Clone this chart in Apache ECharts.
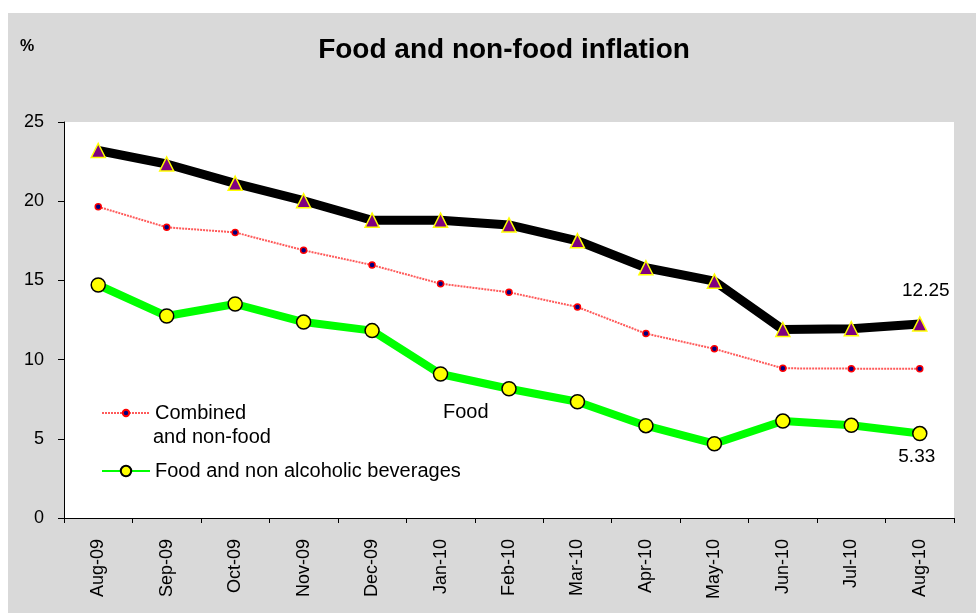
<!DOCTYPE html>
<html>
<head>
<meta charset="utf-8">
<script src="https://cdn.jsdelivr.net/npm/echarts@6/dist/echarts.min.js"></script>
<style>
    html, body { margin: 0; padding: 0; background: #fff; }
    #chart { position: absolute; left: 8px; top: 13px; width: 968px; height: 600px; }
</style>
</head>
<body>
<div id="chart"></div>
<script>
// 月份
var months = ['Aug-09', 'Sep-09', 'Oct-09', 'Nov-09', 'Dec-09', 'Jan-10', 'Feb-10',
    'Mar-10', 'Apr-10', 'May-10', 'Jun-10', 'Jul-10', 'Aug-10'];
// 黑线 (Food)
var foodValues = [23.2, 22.35, 21.13, 20.03, 18.8, 18.8, 18.5, 17.5, 15.8, 14.95, 11.9, 11.95, 12.25];
// 红色虚线 (Combined and non-food)
var combinedValues = [19.65, 18.35, 18.03, 16.9, 15.97, 14.79, 14.25, 13.32, 11.64, 10.68, 9.45, 9.43, 9.43];
// 绿线 (Food and non alcoholic beverages)
var beverageValues = [14.71, 12.75, 13.51, 12.37, 11.83, 9.09, 8.16, 7.34, 5.83, 4.69, 6.12, 5.85, 5.33];
var yTicks = [0, 5, 10, 15, 20, 25];

var font = 'Liberation Sans, Arial, sans-serif';

var chart = echarts.init(document.getElementById('chart'));

// 只给最后一个点加标签
function lastLabel(values, pos, distance, dx) {
    return values.map(function (v, i) {
        if (i === values.length - 1) {
            return {
                value: v,
                label: {
                    show: true,
                    position: pos,
                    distance: distance,
                    offset: [dx, 0],
                    color: '#000',
                    fontSize: 19,
                    fontFamily: font
                }
            };
        }
        return v;
    });
}

var option = {
    backgroundColor: '#d9d9d9',
    animation: false,
    title: {
        text: 'Food and non-food inflation',
        left: 491,
        top: 18,
        textAlign: 'center',
        textStyle: {
            fontFamily: font,
            fontSize: 28,
            fontWeight: 'bold',
            color: '#000'
        }
    },
    graphic: [
        {
            type: 'text',
            left: 12,
            top: 26,
            style: { text: '%', font: 'bold 16px ' + font, fill: '#000' }
        },
        {
            type: 'text',
            left: 435,
            top: 389,
            z: 10,
            style: { text: 'Food', font: '20px ' + font, fill: '#000' }
        },
        {
            type: 'text',
            left: 145,
            top: 414,
            z: 10,
            style: { text: 'and non-food', font: '20px ' + font, fill: '#000' }
        }
    ],
    legend: [
        {
            data: ['Combined and non-food'],
            formatter: function () { return 'Combined'; },
            left: 88,
            top: 385,
            itemWidth: 48,
            itemHeight: 8,
            textStyle: { fontFamily: font, fontSize: 20, color: '#000' }
        },
        {
            data: ['Food and non alcoholic beverages'],
            left: 88,
            top: 443,
            itemWidth: 48,
            itemHeight: 13,
            textStyle: { fontFamily: font, fontSize: 20, color: '#000' }
        }
    ],
    grid: {
        left: 56,
        right: 22,
        top: 109,
        bottom: 95,
        show: true,
        backgroundColor: '#fff',
        borderWidth: 0
    },
    xAxis: {
        type: 'category',
        data: months,
        boundaryGap: true,
        axisLine: { lineStyle: { color: '#000', width: 1 } },
        axisTick: { show: true, length: 5, alignWithLabel: false, lineStyle: { color: '#000' } },
        axisLabel: {
            rotate: 90,
            interval: 0,
            margin: 21,
            color: '#000',
            fontFamily: font,
            fontSize: 18
        },
        splitLine: { show: false }
    },
    yAxis: {
        type: 'value',
        min: yTicks[0],
        max: yTicks[yTicks.length - 1],
        interval: 5,
        axisLine: { show: true, lineStyle: { color: '#000', width: 1 } },
        axisTick: { show: true, length: 6, lineStyle: { color: '#000' } },
        axisLabel: {
            color: '#000',
            fontFamily: font,
            fontSize: 18,
            margin: 20
        },
        splitLine: { show: false }
    },
    series: [
        {
            name: 'Food',
            type: 'line',
            data: lastLabel(foodValues, 'top', 16, 6),
            symbol: 'triangle',
            symbolSize: 14,
            z: 3,
            lineStyle: { color: '#000', width: 9 },
            itemStyle: { color: '#800080', borderColor: '#ffff00', borderWidth: 1.5 }
        },
        {
            name: 'Combined and non-food',
            type: 'line',
            data: combinedValues,
            symbol: 'circle',
            symbolSize: 6,
            z: 2,
            lineStyle: { color: '#ff5a5a', width: 2, type: [2, 1] },
            itemStyle: { color: '#000080', borderColor: '#ff0000', borderWidth: 1.5 }
        },
        {
            name: 'Food and non alcoholic beverages',
            type: 'line',
            data: lastLabel(beverageValues, 'bottom', 6, -3),
            symbol: 'circle',
            symbolSize: 14,
            z: 4,
            lineStyle: { color: '#00ff00', width: 8 },
            itemStyle: { color: '#ffff00', borderColor: '#000', borderWidth: 1.5 }
        }
    ]
};

chart.setOption(option);
</script>
</body>
</html>
